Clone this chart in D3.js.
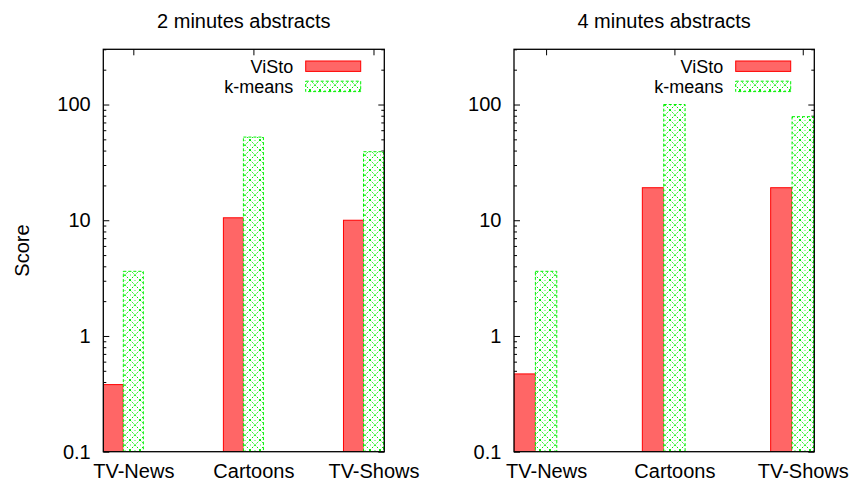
<!DOCTYPE html>
<html>
<head>
<meta charset="utf-8">
<script src="https://cdn.jsdelivr.net/npm/d3@7"></script>
<style>
  html, body { margin: 0; padding: 0; background: #fff; }
  svg { display: block; }
  text { font-family: "Liberation Sans", Arial, Helvetica, sans-serif; fill: #000; }
</style>
</head>
<body>
<svg id="chart" width="851" height="482"></svg>
<script>
// Categories and scores for both abstract lengths
const categories = ["TV-News", "Cartoons", "TV-Shows"];
const seriesNames = ["ViSto", "k-means"];
const panelTitles = ["2 minutes abstracts", "4 minutes abstracts"];
const visto2 = [0.38, 10.5, 10.0];
const kmeans2 = [3.62, 52.3, 39.1];
const visto4 = [0.47, 19.1, 19.1];
const kmeans4 = [3.62, 100, 78.5];
const yTickLabels = ["0.1", "1", "10", "100"];
const yMajor = [0.1, 1, 10, 100];

const svg = d3.select("#chart");
const red = "#ff0000", redFill = "#ff6666", green = "#00f000";

// crosshatch fill for the k-means bars
const defs = svg.append("defs");
const pat = defs.append("pattern")
  .attr("id", "xhatch").attr("patternUnits", "userSpaceOnUse")
  .attr("width", 10).attr("height", 10);
pat.append("rect").attr("width", 10).attr("height", 10).attr("fill", "#fff");
pat.append("path").attr("d", "M0,0L10,10M10,0L0,10")
  .attr("stroke", green).attr("stroke-width", 1)
  .attr("stroke-dasharray", "1.8,1.4");
pat.append("rect").attr("x", 4.4).attr("y", -0.6).attr("width", 1.2).attr("height", 1.2).attr("fill", green);
pat.append("rect").attr("x", -0.6).attr("y", 4.4).attr("width", 1.2).attr("height", 1.2).attr("fill", green);

const panels = [
  { title: panelTitles[0], left: 103.3, right: 384.3, a: visto2, b: kmeans2, ylabel: "Score" },
  { title: panelTitles[1], left: 514, right: 814.3, a: visto4, b: kmeans4, ylabel: null }
];
const plotTop = 49.3, plotBottom = 451.7;
const fontSize = 20, legendFont = 18;

panels.forEach((p, pi) => {
  const g = svg.append("g");
  const clipId = "clip" + pi;
  defs.append("clipPath").attr("id", clipId).append("rect")
    .attr("x", p.left).attr("y", plotTop).attr("width", p.right - p.left).attr("height", plotBottom - plotTop);

  const x = d3.scaleLinear().domain([-0.25, 2.09]).range([p.left, p.right]);
  const y = d3.scaleLog().domain([0.1, 300]).range([plotBottom, plotTop]);
  const w = 1 / 6;

  const minor = y.ticks().filter(v => !yMajor.some(m => Math.abs(m - v) < 1e-9));

  // left axis: major ticks with labels, minor ticks without
  const axL = g.append("g").attr("transform", `translate(${p.left},0)`)
    .call(d3.axisLeft(y).tickValues(yMajor).tickSize(-6).tickPadding(12.6)
      .tickFormat((d, i) => yTickLabels[i]));
  const axLm = g.append("g").attr("transform", `translate(${p.left},0)`)
    .call(d3.axisLeft(y).tickValues(minor).tickSize(-3).tickFormat(""));
  // mirrored right axis
  const axR = g.append("g").attr("transform", `translate(${p.right},0)`)
    .call(d3.axisRight(y).tickValues(yMajor).tickSize(-6).tickFormat(""));
  const axRm = g.append("g").attr("transform", `translate(${p.right},0)`)
    .call(d3.axisRight(y).tickValues(minor).tickSize(-3).tickFormat(""));
  // category axes
  const axB = g.append("g").attr("transform", `translate(0,${plotBottom})`)
    .call(d3.axisBottom(x).tickValues([0, 1, 2]).tickSize(-6).tickPadding(12.6)
      .tickFormat(i => categories[i]));
  const axT = g.append("g").attr("transform", `translate(0,${plotTop})`)
    .call(d3.axisTop(x).tickValues([0, 1, 2]).tickSize(-6).tickFormat(""));

  [axL, axLm, axR, axRm, axB, axT].forEach(a => {
    a.select(".domain").remove();
    a.selectAll("line").attr("stroke", "#000").attr("stroke-width", 1);
    a.selectAll("text").style("font-size", fontSize + "px")
      .style("font-family", '"Liberation Sans", Arial, sans-serif').attr("fill", "#000");
  });
  axB.selectAll("text").attr("dy", "0.71em");

  // bars
  const bars = g.append("g").attr("clip-path", `url(#${clipId})`);
  bars.selectAll("rect.visto").data(p.a).join("rect").attr("class", "visto")
    .attr("x", (d, i) => x(i - 0.25))
    .attr("width", (d, i) => x(i - 0.25 + w) - x(i - 0.25))
    .attr("y", d => y(d)).attr("height", d => plotBottom - y(d))
    .attr("fill", redFill).attr("stroke", red).attr("stroke-width", 1);
  bars.selectAll("rect.km").data(p.b).join("rect").attr("class", "km")
    .attr("x", (d, i) => x(i - w / 2))
    .attr("width", (d, i) => x(i + w / 2) - x(i - w / 2))
    .attr("y", d => y(d)).attr("height", d => plotBottom - y(d))
    .attr("fill", "url(#xhatch)").attr("stroke", green).attr("stroke-width", 1)
    .attr("stroke-dasharray", "3,2");

  // frame
  g.append("rect").attr("x", p.left).attr("y", plotTop)
    .attr("width", p.right - p.left).attr("height", plotBottom - plotTop)
    .attr("fill", "none").attr("stroke", "#000").attr("stroke-width", 1.3);

  // legend
  const lg = g.append("g");
  const boxR = p.right - 23.6, boxW = 55, rowH = 20.2, firstY = 66.2;
  seriesNames.forEach((name, k) => {
    const cy = firstY + k * rowH;
    lg.append("text").attr("x", boxR - boxW - 12.5).attr("y", cy + 6.4)
      .attr("text-anchor", "end").style("font-size", legendFont + "px").text(name);
    lg.append("rect").attr("x", boxR - boxW).attr("y", cy - 5.2)
      .attr("width", boxW).attr("height", 10.4)
      .attr("fill", k === 0 ? redFill : "url(#xhatch)")
      .attr("stroke", k === 0 ? red : green).attr("stroke-width", 1)
      .attr("stroke-dasharray", k === 0 ? null : "3,2");
  });

  // title
  svg.append("text").attr("x", (p.left + p.right) / 2).attr("y", 27.7)
    .attr("text-anchor", "middle").style("font-size", fontSize + "px").text(p.title);

  if (p.ylabel) {
    svg.append("text").attr("transform", `translate(28.5,${(plotTop + plotBottom) / 2}) rotate(-90)`)
      .attr("text-anchor", "middle").style("font-size", fontSize + "px").text(p.ylabel);
  }
});
</script>
</body>
</html>
